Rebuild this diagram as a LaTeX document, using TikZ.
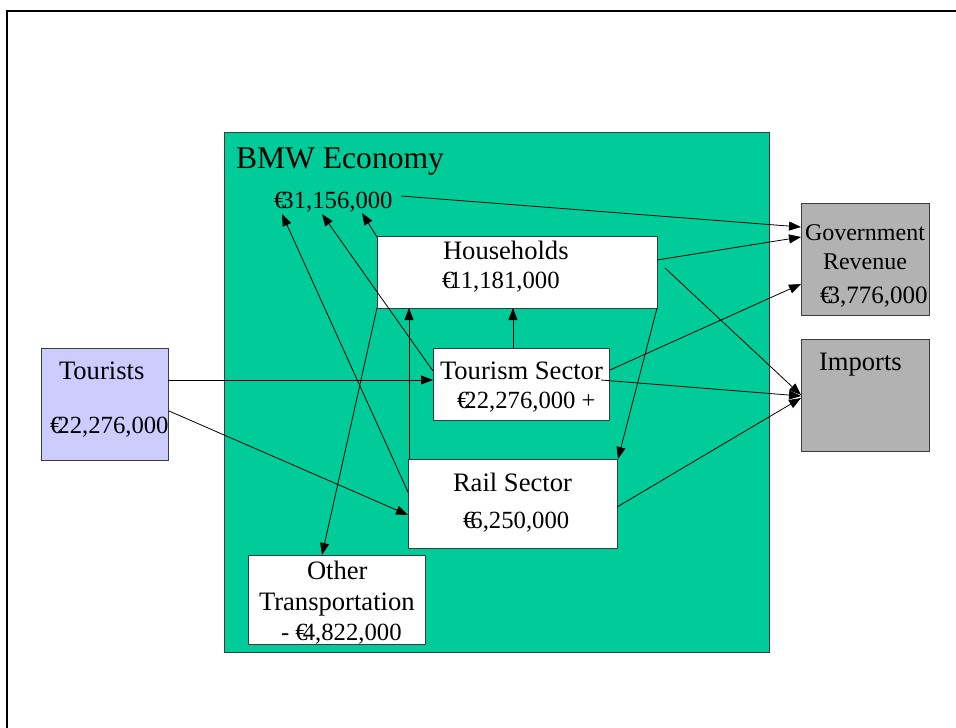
\documentclass[tikz,border=0pt]{standalone}
\usepackage{fontspec}
\setmainfont{Liberation Serif}
\usetikzlibrary{arrows.meta}
\definecolor{econ}{RGB}{0,204,153}
\definecolor{tourc}{RGB}{204,204,255}
\definecolor{grayb}{RGB}{178,178,178}
\definecolor{edgec}{RGB}{60,60,60}
\newcommand{\eur}{\makebox[0.3em][l]{€}}
\begin{document}
\begin{tikzpicture}[x=1pt,y=-1pt,
 box/.style={draw=edgec, line width=0.8pt, inner sep=0pt, outer sep=0pt, anchor=north west},
 txt/.style={anchor=base west, inner sep=0pt, outer sep=0pt, font=\fontsize{26.6}{30}\selectfont},
 ntxt/.style={txt, font=\fontsize{24.7}{28}\selectfont},
 stxt/.style={txt, font=\fontsize{24}{28}\selectfont},
 ttl/.style={txt, font=\fontsize{31.6}{36}\selectfont},
 flow/.style={line width=0.8pt, -{Triangle[length=12pt,width=9pt]}}]
\useasboundingbox (0,0) rectangle (956,728);
\draw[line width=2pt] (7,728) -- (7,11) -- (956,11);

% boxes
\node[box, fill=econ, minimum width=545pt, minimum height=520pt] (econ) at (224.5,132) {};
\node[box, fill=tourc, minimum width=127pt, minimum height=112pt] (tour) at (41,348) {};
\node[box, fill=white, minimum width=280pt, minimum height=72pt] (hh) at (377,236) {};
\node[box, fill=white, minimum width=176pt, minimum height=72pt] (ts) at (433,348) {};
\node[box, fill=white, minimum width=209pt, minimum height=89pt] (rail) at (408.5,459.5) {};
\node[box, fill=white, minimum width=177pt, minimum height=89pt] (other) at (248.5,555) {};
\node[box, fill=grayb, minimum width=128pt, minimum height=112pt] (gov) at (801,203.5) {};
\node[box, fill=grayb, minimum width=128pt, minimum height=112pt] (imp) at (801,339.5) {};

% texts
\node[ttl] (ttlbmw) at (236,168) {BMW Economy};
\node[ntxt] (total) at (274,208) {\eur31,156,000};
\node[txt] (hh1) at (443,259) {Households};
\node[ntxt] (hh2) at (442,288) {\eur11,181,000};
\node[txt] (tr1) at (59,379) {Tourists};
\node[ntxt] (tr2) at (50,433) {\eur22,276,000};
\node[txt] (ts1) at (440,379) {Tourism Sector};
\node[ntxt] (ts2) at (457,408) {\eur22,276,000 +};
\node[txt] (rs1) at (453,491) {Rail Sector};
\node[ntxt] (rs2) at (463,528) {\eur6,250,000};
\node[txt] (ot1) at (307,579) {Other};
\node[txt] (ot2) at (259,610) {Transportation};
\node[ntxt] (ot3) at (281,640) {- \eur4,822,000};
\node[stxt] (gv1) at (805,240) {Government};
\node[stxt] (gv2) at (823,269) {Revenue};
\node[stxt, font=\fontsize{25}{28}\selectfont] (gv3) at (820,303) {\eur3,776,000};
\node[txt] (im1) at (819,370) {Imports};

% connection points
\coordinate (totE) at (401,196);
\coordinate (totA) at (282,214);
\coordinate (totB) at (322,214);
\coordinate (totC) at (362,213);
\coordinate (govA) at (801,227);
\coordinate (govB) at (801,237);
\coordinate (govC) at (801,284);
\coordinate (impA) at (801,395);
\coordinate (impB) at (801,396);
\coordinate (impC) at (801,398);
\coordinate (hhE) at (657,260);
\coordinate (hhX) at (665,268);
\coordinate (hhSE) at (657,308);
\coordinate (hhSW) at (377,308);
\coordinate (hhNW) at (377,237);
\coordinate (hhS1) at (513,308);
\coordinate (hhS2) at (409,308);
\coordinate (tsE) at (610,370);
\coordinate (tsT) at (601,380);
\coordinate (tsW) at (433,380);
\coordinate (tsWa) at (433,371);
\coordinate (tsN) at (513,348);
\coordinate (railNE) at (618,459);
\coordinate (railNW) at (409,459);
\coordinate (railE) at (617,507);
\coordinate (railW) at (408,515);
\coordinate (railWa) at (408,492);
\coordinate (tourE) at (168,380);
\coordinate (tourEb) at (169,411);
\coordinate (otherN) at (322,555);

% connectors
\draw[flow] (totE) -- (govA);
\draw[flow] (hhE) -- (govB);
\draw[flow] (hhX) -- (impA);
\draw[flow] (tsE) -- (govC);
\draw[flow] (tsT) -- (impB);
\draw[flow] (railE) -- (impC);
\draw[flow] (hhSE) -- (railNE);
\draw[flow] (tourE) -- (tsW);
\draw[flow] (tourEb) -- (railW);
\draw[flow] (tsN) -- (hhS1);
\draw[flow] (railNW) -- (hhS2);
\draw[flow] (hhSW) -- (otherN);
\draw[flow] (railWa) -- (totA);
\draw[flow] (tsWa) -- (totB);
\draw[flow] (hhNW) -- (totC);
\end{tikzpicture}
\end{document}
